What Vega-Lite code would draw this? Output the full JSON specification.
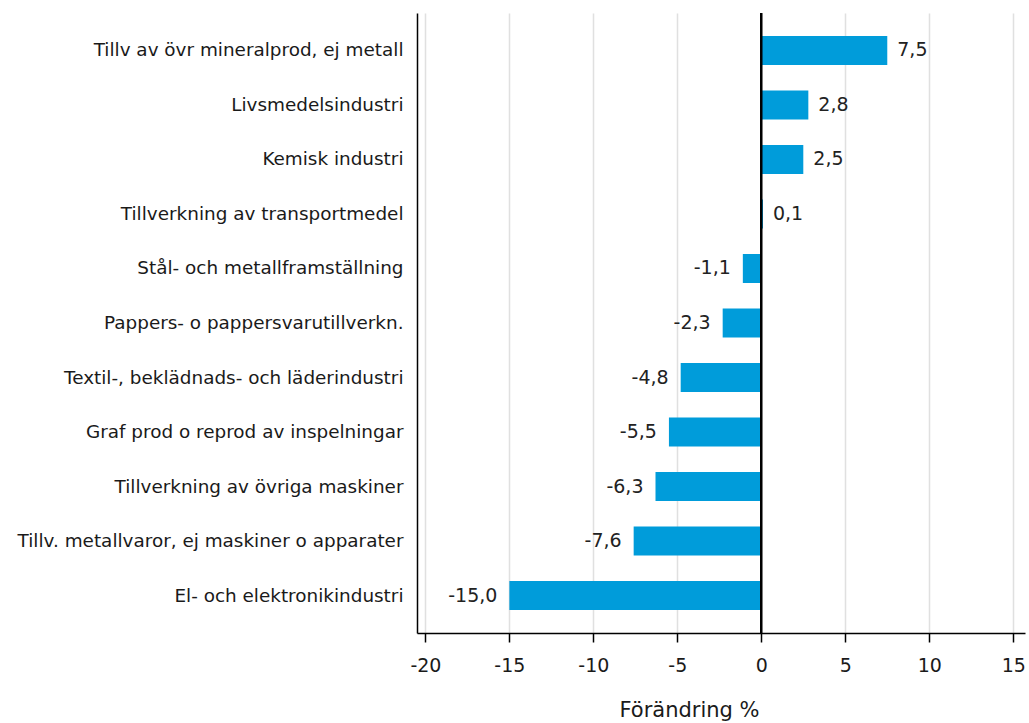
{
  "$schema": "https://vega.github.io/schema/vega-lite/v6.json",
  "autosize": {"type": "none"},
  "width": 608,
  "height": 620,
  "padding": {"left": 417, "top": 13, "right": 4, "bottom": 90},
  "background": "white",
  "config": {
    "locale": {"number": {"decimal": ",", "thousands": " ", "grouping": [3], "currency": ["", " kr"], "minus": "-"}},
    "view": {"stroke": null},
    "font": "DejaVu Sans"
  },
  "data": {
    "values": [
      {"bransch": "Tillv av övr mineralprod, ej metall", "v": 7.5},
      {"bransch": "Livsmedelsindustri", "v": 2.8},
      {"bransch": "Kemisk industri", "v": 2.5},
      {"bransch": "Tillverkning av transportmedel", "v": 0.1},
      {"bransch": "Stål- och metallframställning", "v": -1.1},
      {"bransch": "Pappers- o pappersvarutillverkn.", "v": -2.3},
      {"bransch": "Textil-, beklädnads- och läderindustri", "v": -4.8},
      {"bransch": "Graf prod o reprod av inspelningar", "v": -5.5},
      {"bransch": "Tillverkning av övriga maskiner", "v": -6.3},
      {"bransch": "Tillv. metallvaror, ej maskiner o apparater", "v": -7.6},
      {"bransch": "El- och elektronikindustri", "v": -15.0}
    ]
  },
  "encoding": {
    "y": {
      "field": "bransch", "type": "nominal", "sort": null,
      "scale": {"paddingInner": 0.468, "paddingOuter": 0.422, "align": 0.5},
      "axis": {
        "title": null, "ticks": false, "labelPadding": 14,
        "labelFontSize": 18.4, "labelColor": "#1a1a1a", "labelFont": "DejaVu Sans",
        "domainColor": "#000000", "domainWidth": 1.5, "grid": false, "labelLimit": 420
      }
    }
  },
  "layer": [
    {
      "mark": {"type": "bar", "color": "#009cda"},
      "encoding": {
        "x": {
          "field": "v", "type": "quantitative",
          "scale": {"domain": [-20.5, 15.7], "nice": false, "zero": false},
          "axis": {
            "values": [-20, -15, -10, -5, 0, 5, 10, 15],
            "format": "d",
            "title": "Förändring %",
            "titleFontSize": 21, "titleFontWeight": "normal", "titleColor": "#1a1a1a",
            "titleFont": "DejaVu Sans",
            "titlePadding": 24, "titleX": 272,
            "labelFontSize": 19, "labelColor": "#1a1a1a", "labelFont": "DejaVu Sans",
            "labelPadding": 14, "tickSize": 9, "tickColor": "#000000", "tickWidth": 1.5,
            "domainColor": "#000000", "domainWidth": 1.5,
            "grid": true, "gridColor": "#e0e0e0", "gridWidth": 1.5
          }
        }
      }
    },
    {
      "mark": {"type": "rule", "color": "#000000", "strokeWidth": 1.5},
      "encoding": {"x": {"datum": 0, "type": "quantitative"}, "y": {"value": 0}, "y2": {"value": 620}}
    },
    {
      "transform": [{"filter": "datum.v >= 0"}],
      "mark": {"type": "text", "align": "left", "dx": 10, "fontSize": 19, "color": "#222222", "font": "DejaVu Sans"},
      "encoding": {
        "x": {"field": "v", "type": "quantitative"},
        "text": {"field": "v", "type": "quantitative", "format": ".1f"}
      }
    },
    {
      "transform": [{"filter": "datum.v < 0"}],
      "mark": {"type": "text", "align": "right", "dx": -12, "fontSize": 19, "color": "#222222", "font": "DejaVu Sans"},
      "encoding": {
        "x": {"field": "v", "type": "quantitative"},
        "text": {"field": "v", "type": "quantitative", "format": ".1f"}
      }
    }
  ]
}
